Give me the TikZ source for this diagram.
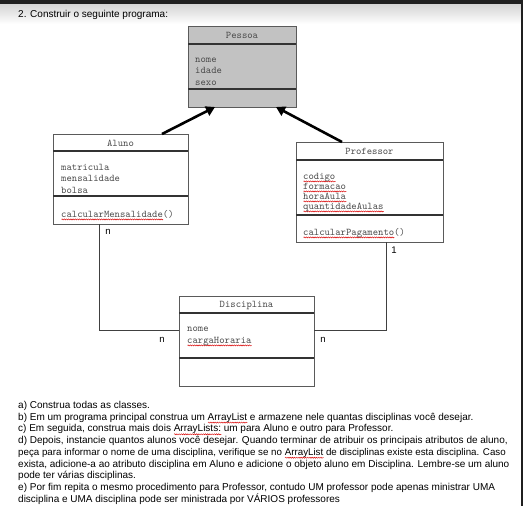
\documentclass[tikz,border=0pt]{standalone}
\usepackage{fontspec}
\setmainfont{Liberation Sans}
\usetikzlibrary{arrows.meta,calc,decorations.pathmorphing}
\newsavebox\spbox
\newlength\spwd
\newcommand\spellerr[1]{\sbox\spbox{#1}\setlength\spwd{\wd\spbox}\rlap{\tikz[baseline=0pt,x=1pt,y=1pt]\draw[red!85!black, line width=0.45pt, decorate, decoration={snake, amplitude=0.55pt, segment length=2.2pt}] (0,-2.4) -- (\spwd,-2.4);}\usebox\spbox}
\definecolor{boxline}{HTML}{5A5A5A}
\definecolor{boxtext}{HTML}{4A4A4A}
\definecolor{pessoagray}{HTML}{C2C2C2}
\begin{document}
\begin{tikzpicture}[x=1pt,y=-1pt,
 umlbox/.style={draw=boxline, line width=0.9pt, anchor=north west, inner sep=0pt, outer sep=0pt},
 divider/.style={draw=black!80, line width=1.1pt},
 title/.style={font=\ttfamily\fontsize{10.2}{11}\selectfont, text=boxtext, anchor=base, inner sep=0pt},
 attr/.style={font=\ttfamily\fontsize{10.2}{11}\selectfont, text=boxtext, anchor=base west, inner sep=0pt},
 body/.style={font=\fontsize{10}{12}\selectfont, anchor=base west, inner sep=0pt},
 link/.style={draw=black!75, line width=0.9pt},
 inh/.style={draw=black, line width=2.6pt, -{Triangle[length=9pt,width=10pt]}},
 mult/.style={font=\fontsize{9.6}{10}\selectfont, inner sep=0pt}]
\useasboundingbox (0,0) rectangle (523,506);
\fill[white] (0,0) rectangle (523,506);
\shade[top color=black!17, bottom color=white] (0,4) rectangle (523,24);
\fill[black!88] (0,0) rectangle (523,4);
\fill[black!88] (521,0) rectangle (523,506);

\node[body] (hdr) at (18,17) {2. Construir o seguinte programa:};

% Pessoa
\node[umlbox, fill=pessoagray, minimum width=108, minimum height=81] (pessoa) at (188,26) {};
\draw[divider] ($(pessoa.north west)+(0,18)$) -- ($(pessoa.north east)+(0,18)$);
\draw[divider] ($(pessoa.north west)+(0,63)$) -- ($(pessoa.north east)+(0,63)$);
\node[title] (pessoaT) at ($(pessoa.north)+(0,12)$) {Pessoa};
\node[attr] (p1) at ($(pessoa.north west)+(7,37)$) {nome};
\node[attr] (p2) at ($(pessoa.north west)+(7,48)$) {idade};
\node[attr] (p3) at ($(pessoa.north west)+(7,59)$) {sexo};

% Aluno
\node[umlbox, minimum width=135, minimum height=90] (aluno) at (53,134) {};
\draw[divider] ($(aluno.north west)+(0,17)$) -- ($(aluno.north east)+(0,17)$);
\draw[divider] ($(aluno.north west)+(0,62)$) -- ($(aluno.north east)+(0,62)$);
\node[title] (alunoT) at ($(aluno.north)+(0,12)$) {Aluno};
\node[attr] (a1) at ($(aluno.north west)+(8,36)$) {matricula};
\node[attr] (a2) at ($(aluno.north west)+(8,47)$) {mensalidade};
\node[attr] (a3) at ($(aluno.north west)+(8,59)$) {bolsa};
\node[attr] (a4) at ($(aluno.north west)+(8,83)$) {\spellerr{calcularMensalidade}()};

% Professor
\node[umlbox, minimum width=147, minimum height=100] (prof) at (296,142) {};
\draw[divider] ($(prof.north west)+(0,18)$) -- ($(prof.north east)+(0,18)$);
\draw[divider] ($(prof.north west)+(0,73)$) -- ($(prof.north east)+(0,73)$);
\node[title] (profT) at ($(prof.north)+(0,12)$) {Professor};
\node[attr] (r1) at ($(prof.north west)+(7,37)$) {\spellerr{codigo}};
\node[attr] (r2) at ($(prof.north west)+(7,47)$) {\spellerr{formacao}};
\node[attr] (r3) at ($(prof.north west)+(7,57)$) {\spellerr{horaAula}};
\node[attr] (r4) at ($(prof.north west)+(7,67)$) {\spellerr{quantidadeAulas}};
\node[attr] (r5) at ($(prof.north west)+(7,93)$) {\spellerr{calcularPagamento}()};

% Disciplina
\node[umlbox, minimum width=135, minimum height=90] (disc) at (179,296) {};
\draw[divider] ($(disc.north west)+(0,17)$) -- ($(disc.north east)+(0,17)$);
\draw[divider] ($(disc.north west)+(0,62)$) -- ($(disc.north east)+(0,62)$);
\node[title] (discT) at ($(disc.north)+(0,11)$) {Disciplina};
\node[attr] (d1) at ($(disc.north west)+(8,35)$) {nome};
\node[attr] (d2) at ($(disc.north west)+(8,47)$) {\spellerr{cargaHoraria}};

% connectors
\draw[link] ($(aluno.south west)+(46,0)$) |- ($(disc.north west)+(0,34)$);
\draw[link] ($(prof.south west)+(90,0)$) |- ($(disc.north east)+(0,34)$);
\draw[inh] ($(aluno.north west)+(109,0)$) -- ($(pessoa.south west)+(27,0)$);
\draw[inh] ($(prof.north west)+(46,0)$) -- ($(pessoa.south west)+(88,0)$);

\node[mult] (m1) at (108,232) {n};
\node[mult] (m2) at (394,250) {1};
\node[mult] (m3) at (162,340) {n};
\node[mult] (m4) at (323,340) {n};

% text
\node[body] (t1) at (18,408.5) {a) Construa todas as classes.};
\node[body] (t2) at (18,420.2) {b) Em um programa principal construa um \spellerr{ArrayList} e armazene nele quantas disciplinas você desejar.};
\node[body] (t3) at (18,431.9) {c) Em seguida, construa mais dois \spellerr{ArrayLists:} um para Aluno e outro para Professor.};
\node[body] (t4) at (18,443.6) {d) Depois, instancie quantos alunos você desejar. Quando terminar de atribuir os principais atributos de aluno,};
\node[body, font=\fontsize{9.75}{12}\selectfont] (t5) at (18,455.3) {peça para informar o nome de uma disciplina, verifique se no \spellerr{ArrayList} de disciplinas existe esta disciplina. Caso};
\node[body] (t6) at (18,467) {exista, adicione-a ao atributo disciplina em Aluno e adicione o objeto aluno em Disciplina. Lembre-se um aluno};
\node[body] (t7) at (18,478.7) {pode ter várias disciplinas.};
\node[body] (t8) at (18,490.4) {e) Por fim repita o mesmo procedimento para Professor, contudo UM professor pode apenas ministrar UMA};
\node[body] (t9) at (18,502.1) {disciplina e UMA disciplina pode ser ministrada por VÁRIOS professores};
\end{tikzpicture}
\end{document}
